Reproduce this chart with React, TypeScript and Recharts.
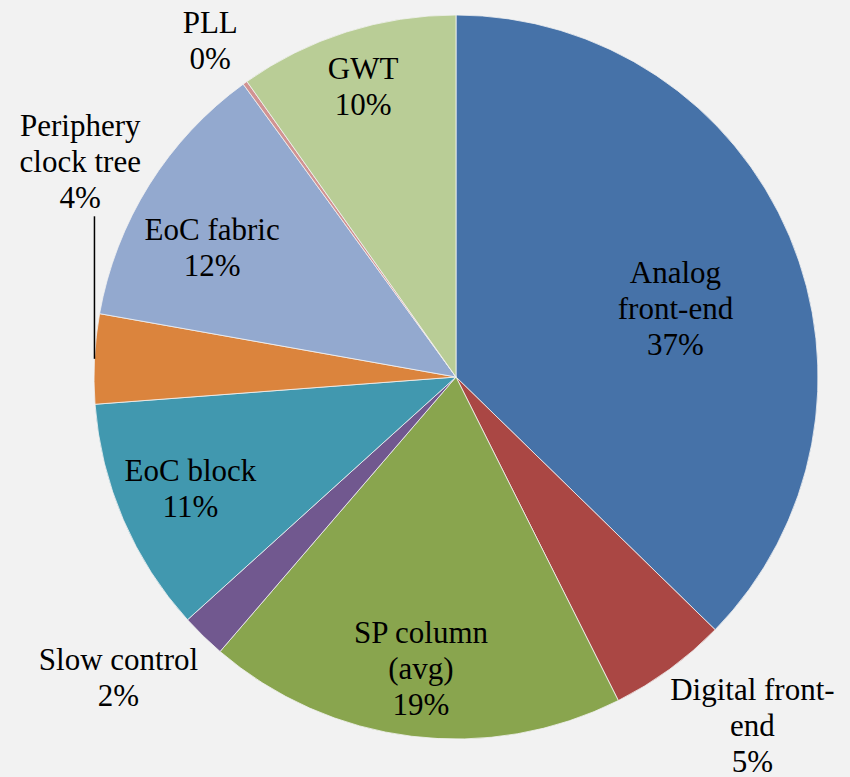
import { PieChart, Pie, Cell, PieLabelRenderProps } from "recharts";

// share of power per block (%)
const categories = [
  "Analog front-end",
  "Digital front-end",
  "SP column (avg)",
  "Slow control",
  "EoC block",
  "Periphery clock tree",
  "EoC fabric",
  "PLL",
  "GWT",
];
const shares = [37.3, 5.3, 18.7, 2.0, 10.5, 4.0, 12.2, 0.2, 9.8];

// how each label is wrapped in the picture
const labelRows = [
  ["Analog", "front-end"],
  ["Digital front-", "end"],
  ["SP column", "(avg)"],
  ["Slow control"],
  ["EoC block"],
  ["Periphery", "clock tree"],
  ["EoC fabric"],
  ["PLL"],
  ["GWT"],
];

const COLORS = [
  "#4672a8",
  "#aa4744",
  "#89a54e",
  "#71588f",
  "#4198af",
  "#db843d",
  "#93a9cf",
  "#d19392",
  "#b9cd96",
];

// label distance from centre (x radius) and angle nudge (deg) off the slice middle
const labelRadius = [0.627, 1.285, 0.839, 1.267, 0.807, 1.182, 0.749, 1.127, 0.816];
const labelShift = [-8.1, 3.4, 0.4, -3.1, 1.4, -25.7, 6.1, 1.4, 0.7];
const leaderLine = [false, false, false, false, false, true, false, false, false];

const data = categories.map((name, i) => ({ name, value: shares[i] }));

const RADIAN = Math.PI / 180;
const LINE_H = 36;
const FONT = "'Liberation Serif', 'Times New Roman', serif";

const renderLabel = (props: PieLabelRenderProps) => {
  const { cx, cy, midAngle, outerRadius, index } = props;
  const i = index as number;
  const R = outerRadius as number;
  const mid = midAngle as number;
  const a = (mid + labelShift[i]) * RADIAN;
  const r = R * labelRadius[i];
  const x = (cx as number) + r * Math.cos(a);
  const y = (cy as number) - r * Math.sin(a);
  const rows = [...labelRows[i], `${Math.round(shares[i])}%`];
  const firstBase = y - ((rows.length - 1) * LINE_H) / 2;
  const lastBase = firstBase + (rows.length - 1) * LINE_H;

  let line = null;
  if (leaderLine[i]) {
    const ex = (cx as number) + R * Math.cos(mid * RADIAN);
    const ey = (cy as number) - R * Math.sin(mid * RADIAN);
    line = (
      <line x1={ex} y1={ey} x2={ex} y2={lastBase + 8} stroke="#000" strokeWidth={1.5} />
    );
  }

  return (
    <g key={`lbl-${i}`}>
      {line}
      <text
        x={x}
        y={firstBase}
        textAnchor="middle"
        fill="#000"
        fontSize={31}
        style={{ fontFamily: FONT, fontSize: 31 }}
      >
        {rows.map((t, k) => (
          <tspan key={k} x={x} dy={k === 0 ? 0 : LINE_H}>
            {t}
          </tspan>
        ))}
      </text>
    </g>
  );
};

const App = () => {
  return (
    <div
      style={{
        position: "absolute",
        left: 0,
        top: 0,
        width: 850,
        height: 777,
        background: "#f2f2f2",
      }}
    >
      <PieChart width={850} height={777} margin={{ top: 0, right: 0, bottom: 0, left: 0 }}>
        <Pie
          data={data}
          dataKey="value"
          cx={456}
          cy={377}
          outerRadius={362}
          startAngle={90}
          endAngle={-270}
          stroke="#f2f2f2"
          strokeWidth={0.8}
          labelLine={false}
          label={renderLabel}
          isAnimationActive={false}
        >
          {data.map((_, index) => (
            <Cell key={`cell-${index}`} fill={COLORS[index]} />
          ))}
        </Pie>
      </PieChart>
    </div>
  );
};

export default App;
